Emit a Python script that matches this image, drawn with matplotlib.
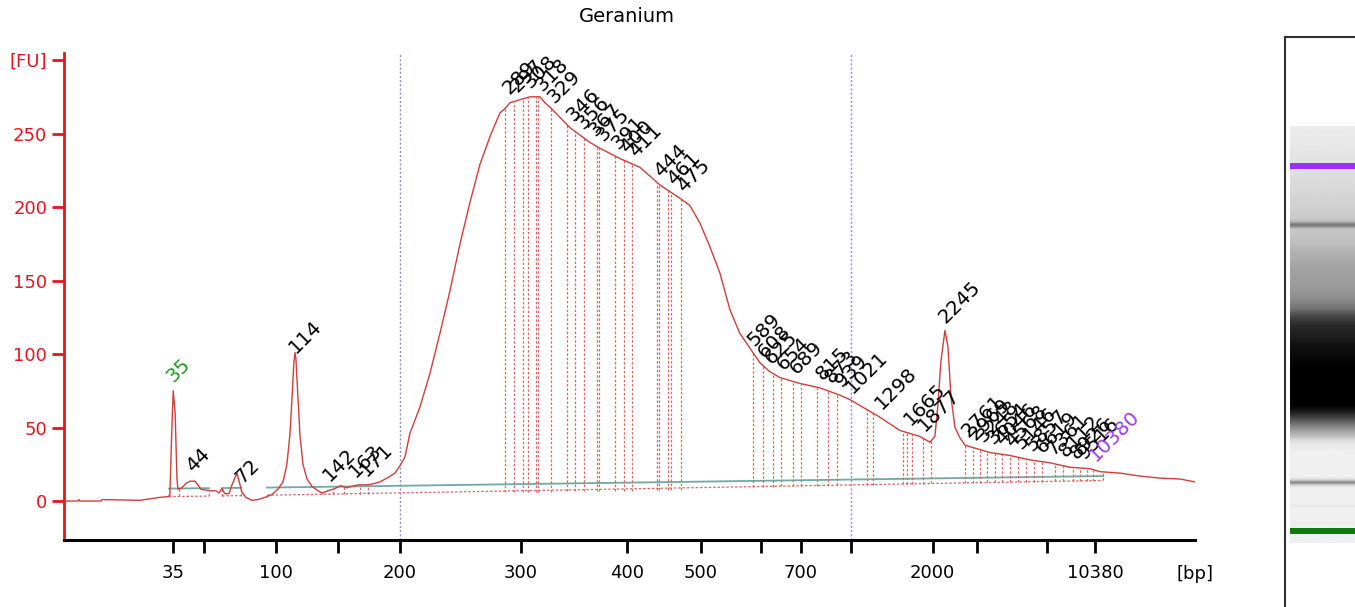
import numpy as np
import matplotlib
matplotlib.use('Agg')
import matplotlib.pyplot as plt

title = 'Geranium'

# DNA ladder: size (bp) and migration time (s)
ladder_bp = [35, 50, 100, 150, 200, 300, 400, 500, 600, 700, 1000, 2000, 3000, 7000, 10380]
ladder_t = [46.55, 48.62, 53.40, 57.55, 61.67, 69.71, 76.78, 81.71, 85.71, 88.40, 91.71,
            97.18, 100.13, 104.82, 108.02]
labelled_bp = [35, 100, 200, 300, 400, 500, 700, 2000, 10380]

# electropherogram trace: time (s) and fluorescence (FU)
trace_t = [39.27, 40.20, 40.27, 40.33, 41.73, 41.80, 44.33, 45.0, 45.67, 46.2, 46.33, 46.43,
           46.55, 46.68, 46.8, 46.87, 47.13, 47.4, 47.67, 48.0, 48.2, 48.4, 49.0, 49.4,
           49.6, 49.8, 50.0, 50.27, 50.47, 50.67, 50.8, 50.93, 51.13, 51.4, 51.8, 52.2,
           52.67, 53.13, 53.53, 53.87, 54.13, 54.33, 54.47, 54.6, 54.67, 54.73, 54.87, 55.0,
           55.2, 55.47, 55.8, 56.13, 56.47, 56.87, 57.33, 57.73, 58.07, 58.47, 58.87, 59.33,
           59.8, 60.33, 60.87, 61.33, 61.67, 62.0, 62.33, 63.0, 63.67, 64.33, 65.0, 65.67,
           66.33, 67.0, 67.67, 68.33, 68.67, 69.0, 69.67, 70.33, 71.0, 71.33, 71.67, 72.33,
           73.0, 73.67, 74.33, 75.0, 76.33, 77.67, 79.0, 80.33, 81.0, 81.67, 82.33, 83.0,
           83.67, 84.33, 85.0, 85.67, 86.33, 87.0, 88.33, 89.67, 91.0, 91.67, 92.33, 93.67,
           95.0, 96.33, 97.0, 97.33, 97.53, 97.73, 98.0, 98.2, 98.4, 98.67, 99.0, 99.33,
           100.0, 101.0, 102.33, 103.67, 105.0, 106.33, 107.67, 108.33, 109.67, 111.0,
           112.33, 113.67, 114.67]
trace_fu = [0, 0, 1.0, 0, 0, 1.0, 0.5, 1.5, 2.5, 3.0, 4, 40,
            75, 60, 15, 8, 9, 12, 13.5, 13.5, 11, 8, 7, 7,
            5.5, 8.5, 5, 5, 11, 16, 19, 14, 6, 2.5, 0.5, 1,
            2.5, 4.5, 8, 13, 25, 45, 70, 95, 101, 97, 70, 45,
            25, 15, 10, 7.5, 5.5, 7, 8.5, 10.5, 9, 10, 11, 11,
            11.5, 13, 16, 19, 24, 30, 46, 64, 87, 114, 143, 175,
            203, 229, 248, 264, 267, 271, 273, 275, 275, 271, 268, 261,
            254, 249, 244, 240, 233, 227, 215, 206, 201, 189, 173, 155,
            130, 114, 104, 94, 88, 84, 80, 77, 72, 69, 65, 57,
            48, 44, 40, 44, 65, 95, 116, 105, 71, 50, 43, 38,
            36, 33, 31, 28, 26, 23, 22, 20, 19, 17,
            15.6, 15, 13]

# called peaks (bp); the markers are coloured
peak_bp = [35, 44, 72, 114, 142, 163, 171,
           289, 297, 308, 318, 329, 346, 356, 367, 375, 391, 400, 411, 444, 461, 475,
           589, 608, 625, 654, 689, 815, 873, 939, 1021, 1298, 1665, 1877, 2245,
           2761, 2969, 3248, 3654, 4046, 4568, 5146, 5857, 6619, 7361, 8112, 8926, 9516,
           10380]
lower_marker_bp = 35
upper_marker_bp = 10380

# peak window edges (s)
peak_edges_t = [46.27, 46.93, 48.93, 49.8, 51.07, 52.8, 56.47, 57.2, 57.93, 59.0, 59.53,
                68.67, 69.27, 69.87, 70.2, 70.73, 70.87, 71.73, 72.8, 73.33, 73.93, 74.8,
                74.93, 76.0, 76.6, 77.13, 78.8, 78.93, 79.53, 79.73, 80.4,
                85.18, 85.85, 86.51, 87.07, 87.85, 88.38, 89.45, 90.22, 90.78, 92.78,
                93.18, 95.2, 95.45, 95.8, 96.51, 97.05,
                99.33, 99.85, 100.33, 100.8, 101.33, 101.78, 102.33, 102.85, 103.4, 103.93,
                104.45, 105.33, 105.89, 106.51, 107.0, 107.45, 107.89, 108.55]
baseline_segments = [(46.27, 48.93), (49.8, 51.07), (52.8, 108.55)]
baseline_t = [46.27, 56.47, 68.67, 80.4, 85.18, 97.05, 108.55]
baseline_fu = [8.5, 9.5, 11.5, 12.5, 14.5, 15.5, 17.0]
floor_fu = [3.0, 4.5, 6.0, 7.5, 9.5, 12.0, 14.0]

smear_bp = [200, 1000]


def bp_to_t(bp):
    return np.interp(np.log(bp), np.log(ladder_bp), ladder_t)


RED = '#e8141c'
TRACE = '#d23c3c'

plt.rcParams['font.family'] = 'DejaVu Sans'
fig = plt.figure(figsize=(13.55, 6.07), dpi=100)
ax = fig.add_axes([64 / 1355, 67 / 607, 1131 / 1355, 487 / 607])

ax.set_xlim(39.27, 114.67)
ax.set_ylim(-26.5, 304.8)

# smear region markers
for bp in smear_bp:
    ax.axvline(bp_to_t(bp), color='#8c8cd2', lw=1, ls=(0, (1.5, 1.5)), zorder=1)

# baselines
for t0, t1 in baseline_segments:
    tt = np.array([t0, t1])
    ax.plot(tt, np.interp(tt, baseline_t, baseline_fu), color='#6fa9a0', lw=1.3, zorder=2)
    ax.plot(tt, np.interp(tt, baseline_t, floor_fu), color='#e06464', lw=0.9,
            ls=(0, (2, 1.5)), zorder=2)

edges = np.array(peak_edges_t)
ax.vlines(edges, np.interp(edges, baseline_t, floor_fu), np.interp(edges, trace_t, trace_fu),
          colors='#e06464', lw=0.9, linestyles=(0, (2, 1.5)), zorder=2)

ax.plot(trace_t, trace_fu, color=TRACE, lw=1.0, zorder=3)

# peak labels
for bp in peak_bp:
    t = bp_to_t(bp)
    fu = np.interp(t, trace_t, trace_fu)
    col = 'black'
    if bp == lower_marker_bp:
        col = '#1f9a1f'
    elif bp == upper_marker_bp:
        col = '#9b3cf0'
    ax.annotate(str(bp), (t, fu), xytext=(3, 5), textcoords='offset pixels',
                rotation=45, rotation_mode='anchor', ha='left', va='bottom',
                fontsize=14.3, color=col, zorder=4)

# axes styling
for s in ['top', 'right']:
    ax.spines[s].set_visible(False)
ax.spines['left'].set_color(RED)
ax.spines['left'].set_linewidth(2)
ax.spines['bottom'].set_color('black')
ax.spines['bottom'].set_linewidth(2.2)

ax.set_yticks([0, 50, 100, 150, 200, 250, 300])
ax.set_yticklabels(['0', '50', '100', '150', '200', '250', '[FU]'])
ax.tick_params(axis='y', colors=RED, length=9, width=2, pad=3, labelsize=13)

ax.set_xticks(bp_to_t(np.array(ladder_bp)))
ax.set_xticklabels([str(b) if b in labelled_bp else '' for b in ladder_bp])
ax.tick_params(axis='x', colors='black', length=9, width=2, pad=8, labelsize=13)

ax.text(1.0, -0.052, '[bp]', transform=ax.transAxes, ha='center', va='top', fontsize=13)
fig.text(627 / 1355, 1 - 17 / 607, title, ha='center', va='center', fontsize=14)

# virtual gel lane
gax = fig.add_axes([1285 / 1355, 0, 70 / 1355, 570 / 607])
t_top = 46.55 + (531 - 37) * 0.16841
t_bot = 46.55 + (531 - 607) * 0.16841
gax.set_xlim(0, 1)
gax.set_ylim(t_bot, t_top)
lane_lo, lane_hi = 44.53, 114.59
grid = np.linspace(lane_lo, lane_hi, 700)
signal = np.interp(grid, trace_t, trace_fu)
gray = 0.94 * (1 - np.clip((signal - 12) / 235, 0, 1) ** 0.85)
gax.imshow(gray[:, None], origin='lower', cmap='gray', vmin=0, vmax=1, aspect='auto',
           extent=[0.071, 1.0, lane_lo, lane_hi], interpolation='bilinear')
gax.axhspan(bp_to_t(lower_marker_bp) - 0.45, bp_to_t(lower_marker_bp) + 0.45,
            xmin=0.071, color='#0a7d0a', lw=0)
gax.axhspan(bp_to_t(upper_marker_bp) - 0.45, bp_to_t(upper_marker_bp) + 0.45,
            xmin=0.071, color='#9b30ff', lw=0)
gax.set_xticks([])
gax.set_yticks([])
for s in ['bottom', 'right']:
    gax.spines[s].set_visible(False)
for s in ['left', 'top']:
    gax.spines[s].set_color('#303030')
    gax.spines[s].set_linewidth(1.5)

fig.savefig('out.png', dpi=100)
